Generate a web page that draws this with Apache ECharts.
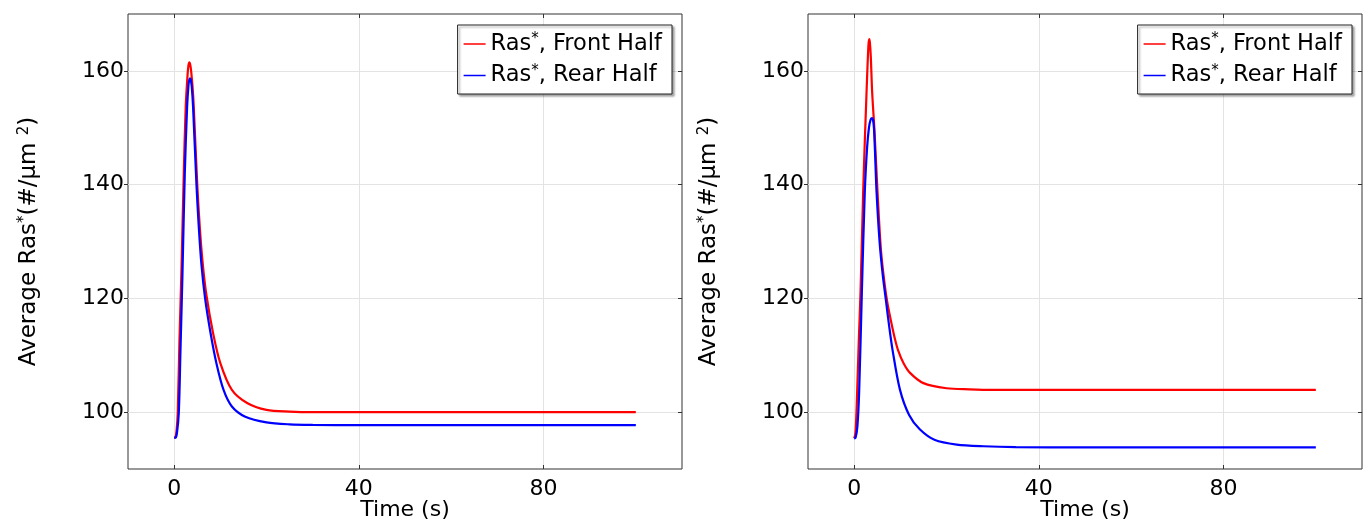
<!DOCTYPE html>
<html>
<head>
<meta charset="utf-8">
<script src="https://cdn.jsdelivr.net/npm/echarts@6/dist/echarts.min.js"></script>
<style>html,body{margin:0;padding:0;background:#fff}#c{width:1369px;height:520px}</style>
</head>
<body>
<div id="c"></div>
<script>
// ---- data (time in s, value in #/um^2) ----
const xTickLabels = [0, 40, 80];
const yTickLabels = [100, 120, 140, 160];
const seriesNames = ['Front Half', 'Rear Half'];

const leftFrontT = [0, 0.3, 0.55, 0.78, 1.15, 1.58, 2.08, 2.5, 2.9, 3.1, 3.3, 3.5, 3.7, 4.0, 4.25, 5.0, 5.55, 6.2, 7.0, 8.4, 10, 12.5, 15.8, 20, 25, 30, 40, 60, 80, 100];
const leftFrontV = [95.5, 95.6, 97, 100, 112.7, 125, 141.9, 153.6, 159.3, 161, 161.5, 161, 159.8, 157, 153.6, 140, 132.5, 126, 120.5, 114, 108.6, 103.9, 101.6, 100.4, 100.1, 100, 100, 100, 100, 100];

const leftRearT = [0, 0.3, 0.6, 1.0, 1.37, 1.8, 2.3, 2.8, 3.1, 3.3, 3.45, 3.6, 3.8, 4.1, 4.83, 5.3, 5.9, 6.7, 7.86, 9.15, 10.7, 12.5, 15.4, 20, 25, 30, 40, 60, 80, 100];
const leftRearV = [95.5, 95.5, 96.3, 99.8, 111, 124.4, 141.9, 153.6, 157.5, 158.5, 158.7, 158.4, 157.3, 153.6, 140, 133, 126, 120, 114, 108.6, 103.9, 101.0, 99.2, 98.2, 97.85, 97.75, 97.7, 97.7, 97.7, 97.7];

const rightFrontT = [0, 0.25, 0.45, 0.65, 1.0, 1.38, 1.95, 2.3, 2.68, 2.9, 3.1, 3.25, 3.4, 3.6, 3.9, 4.4, 5.06, 5.8, 6.6, 7.2, 7.9, 8.7, 9.5, 10.7, 12.1, 15, 20, 25, 30, 40, 60, 80, 100];
const rightFrontV = [95.4, 96.2, 99, 103.6, 112.5, 121.2, 138.7, 147.5, 156.2, 161, 164.6, 165.6, 165, 162.5, 156.2, 149.5, 138.7, 128.5, 122.5, 119.2, 116.3, 113.3, 110.9, 108.6, 106.9, 105.1, 104.2, 104.0, 103.9, 103.9, 103.9, 103.9, 103.9];

const rightRearT = [0, 0.3, 0.7, 1.08, 1.67, 2.3, 2.8, 3.2, 3.55, 3.9, 4.1, 4.3, 4.55, 4.85, 5.5, 6.14, 6.9, 7.6, 8.3, 9.9, 11.9, 14.2, 17.5, 22.2, 28, 35, 50, 70, 100];
const rightRearV = [95.4, 95.5, 97.5, 103.6, 121.2, 138.7, 146.5, 150, 151.4, 151.7, 151.3, 149.8, 145, 138.7, 130, 124.5, 119.5, 115, 111, 104, 99.5, 97, 95.1, 94.3, 94.0, 93.85, 93.8, 93.8, 93.8];

function pairs(t, v) { return t.map((x, i) => [x, v[i]]); }

const FONT = 'DejaVu Sans';
const gridDefs = [
  { left: 128, top: 14, width: 554, height: 455 },
  { left: 808, top: 14, width: 554, height: 455 }
];
const grids = gridDefs.map(g => Object.assign({
  show: true, borderColor: '#333', borderWidth: 1, backgroundColor: 'transparent',
  containLabel: false, outerBoundsMode: 'none'
}, g));

const supRich = {
  a: { fontFamily: FONT, fontSize: 23, color: '#000', lineHeight: 24 },
  s: { fontFamily: FONT, fontSize: 15, color: '#000', verticalAlign: 'top', lineHeight: 10 }
};

const xAxes = [], yAxes = [];
for (let gi = 0; gi < 2; gi++) {
  xAxes.push({
    type: 'value', gridIndex: gi, min: -10, max: 110, splitNumber: 6, position: 'bottom',
    name: 'Time (s)', nameLocation: 'middle', nameGap: 30, nameMoveOverlap: false,
    nameTextStyle: { fontFamily: FONT, fontSize: 22, color: '#000' },
    axisLine: { show: false, onZero: false },
    axisTick: { show: true, inside: true, length: 4, customValues: xTickLabels, lineStyle: { color: '#333' } },
    axisLabel: { customValues: xTickLabels, margin: 9, fontFamily: FONT, fontSize: 22, color: '#000' },
    splitLine: { show: true, lineStyle: { color: '#e3e3e3', width: 1 } }
  });
  xAxes.push({
    type: 'value', gridIndex: gi, min: -10, max: 110, splitNumber: 6, position: 'top',
    axisLine: { show: false, onZero: false },
    axisTick: { show: true, inside: true, length: 4, customValues: xTickLabels, lineStyle: { color: '#333' } },
    axisLabel: { show: false }, splitLine: { show: false }
  });
  yAxes.push({
    type: 'value', gridIndex: gi, min: 90, max: 170, splitNumber: 4, position: 'left',
    name: '{a|Average Ras}{s|*}{a|(#/μm }{s|2}{a|)}', nameLocation: 'middle', nameGap: 87,
    nameMoveOverlap: false,
    nameTextStyle: { fontFamily: FONT, fontSize: 23, color: '#000', rich: supRich },
    axisLine: { show: false, onZero: false },
    axisTick: { show: true, inside: false, length: 4, customValues: yTickLabels, lineStyle: { color: '#333' } },
    axisLabel: { customValues: yTickLabels, margin: 4, fontFamily: FONT, fontSize: 22, color: '#000' },
    splitLine: { show: true, lineStyle: { color: '#e3e3e3', width: 1 } }
  });
  yAxes.push({
    type: 'value', gridIndex: gi, min: 90, max: 170, splitNumber: 4, position: 'right',
    axisLine: { show: false, onZero: false },
    axisTick: { show: true, inside: true, length: 4, customValues: yTickLabels, lineStyle: { color: '#333' } },
    axisLabel: { show: false }, splitLine: { show: false }
  });
}

function lineSeries(name, color, gi, t, v) {
  return {
    type: 'line', name: name, xAxisIndex: gi * 2, yAxisIndex: gi * 2,
    data: pairs(t, v), showSymbol: false, symbol: 'none', smooth: 0.3,
    lineStyle: { color: color, width: 2.2 }, itemStyle: { color: color },
    animation: false, z: 3
  };
}

const series = [
  lineSeries(seriesNames[0], '#ff0000', 0, leftFrontT, leftFrontV),
  lineSeries(seriesNames[1], '#0000ff', 0, leftRearT, leftRearV),
  lineSeries(seriesNames[0], '#ff0000', 1, rightFrontT, rightFrontV),
  lineSeries(seriesNames[1], '#0000ff', 1, rightRearT, rightRearV)
];

function legendDef(right) {
  return {
    show: true, orient: 'vertical', right: right, top: 25,
    data: seriesNames, icon: 'rect', itemWidth: 22, itemHeight: 1.5, itemGap: 8,
    padding: [7, 10, 7, 6], backgroundColor: '#fff', borderColor: '#222', borderWidth: 1,
    shadowColor: 'rgba(0,0,0,0.35)', shadowBlur: 2, shadowOffsetX: 2, shadowOffsetY: 2,
    selectedMode: false,
    formatter: n => '{a|Ras}{s|*}{a|, ' + n + '}',
    textStyle: {
      fontFamily: FONT, fontSize: 22.5, color: '#000',
      rich: {
        a: { fontFamily: FONT, fontSize: 22.5, color: '#000', lineHeight: 24 },
        s: { fontFamily: FONT, fontSize: 15, color: '#000', verticalAlign: 'top', lineHeight: 10 }
      }
    }
  };
}

const chart = echarts.init(document.getElementById('c'), null, { renderer: 'canvas' });
chart.setOption({
  animation: false,
  backgroundColor: '#fff',
  grid: grids,
  xAxis: xAxes,
  yAxis: yAxes,
  legend: [legendDef(697), legendDef(17)],
  series: series
});
</script>
</body>
</html>
